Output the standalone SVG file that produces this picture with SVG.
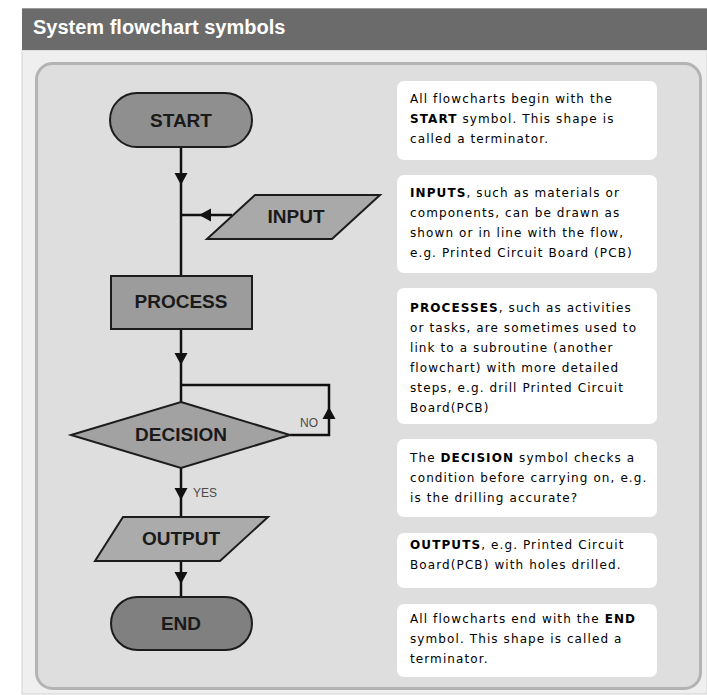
<svg xmlns="http://www.w3.org/2000/svg" xmlns:xlink="http://www.w3.org/1999/xlink" width="707" height="695" viewBox="0 0 707 695">
  <style>
    .title { font-family: "Liberation Sans", Arial, sans-serif; font-weight: bold; font-size: 20px; fill: #ffffff; }
    .shape { stroke: #1c1c1c; stroke-width: 2; }
    .label { font-family: "Liberation Sans", Arial, sans-serif; font-weight: bold; font-size: 19px; fill: #1a1a1a; text-anchor: middle; }
    .small { font-family: "Liberation Sans", Arial, sans-serif; font-size: 12px; fill: #4a4a4a; }
    .flow { fill: none; stroke: #111111; stroke-width: 2.5; }
    .head { fill: #111111; }
    .note { fill: #ffffff; }
    .desc { font-family: "DejaVu Sans", Verdana, sans-serif; font-size: 12px; fill: #000000; letter-spacing: 1.1px; }
    .desc .b { font-weight: bold; fill: #000000; }
  </style>
  <defs>
    <!-- arrowhead pointing down, tip at the origin -->
    <path id="ah" d="M -6.5 -12 L 6.5 -12 L 0 0 Z"/>
  </defs>

  <!-- page -->
  <rect x="0" y="0" width="707" height="695" fill="#ffffff"/>
  <rect x="22" y="50" width="685" height="644" fill="#efefef" stroke="#d2d2d2" stroke-width="1"/>
  <rect x="22" y="8" width="685" height="42" fill="#6b6b6b"/>
  <line x1="22" y1="8.5" x2="707" y2="8.5" stroke="#9a9a9a" stroke-width="1"/>
  <text class="title" x="33" y="34">System flowchart symbols</text>

  <!-- inner panel -->
  <rect x="36.5" y="63.5" width="664" height="625" rx="16" fill="#dedede" stroke="#b3b3b3" stroke-width="3"/>

  <!-- connectors -->
  <g id="connectors">
    <path class="flow" d="M 181 147 V 276"/>
    <path class="flow" d="M 232 215 H 181"/>
    <path class="flow" d="M 181 329 V 402"/>
    <path class="flow" d="M 290 435 H 329 V 385 H 181"/>
    <path class="flow" d="M 181 468 V 517"/>
    <path class="flow" d="M 181 561 V 597"/>
    <use xlink:href="#ah" class="head" transform="translate(181,185)"/>
    <use xlink:href="#ah" class="head" transform="translate(199,215) rotate(90)"/>
    <use xlink:href="#ah" class="head" transform="translate(181,365)"/>
    <use xlink:href="#ah" class="head" transform="translate(329,407) rotate(180)"/>
    <use xlink:href="#ah" class="head" transform="translate(181,500)"/>
    <use xlink:href="#ah" class="head" transform="translate(181,584)"/>
    <text class="small" x="300" y="427">NO</text>
    <text class="small" x="193" y="497">YES</text>
  </g>

  <!-- flowchart symbols -->
  <g id="start">
    <rect class="shape" x="110" y="93" width="142" height="54" rx="27" fill="#8f8f8f"/>
    <text class="label" x="181" y="127">START</text>
  </g>
  <g id="input">
    <polygon class="shape" points="255,195 380,195 332,239 207,239" fill="#a9a9a9"/>
    <text class="label" x="296" y="223">INPUT</text>
  </g>
  <g id="process">
    <rect class="shape" x="111" y="276" width="141" height="53" fill="#9c9c9c"/>
    <text class="label" x="181" y="308">PROCESS</text>
  </g>
  <g id="decision">
    <polygon class="shape" points="181,402 290,435 181,468 71,435" fill="#a2a2a2"/>
    <text class="label" x="181" y="441">DECISION</text>
  </g>
  <g id="output">
    <polygon class="shape" points="123,517 268,517 220,561 95,561" fill="#ababab"/>
    <text class="label" x="181" y="545">OUTPUT</text>
  </g>
  <g id="end">
    <rect class="shape" x="111" y="597" width="141" height="53" rx="26.5" fill="#808080"/>
    <text class="label" x="181" y="630">END</text>
  </g>

  <!-- explanation cards -->
  <g id="note-start">
    <rect class="note" x="397" y="81" width="260" height="79" rx="7"/>
    <text class="desc" x="410" y="103">All flowcharts begin with the</text>
    <text class="desc" x="410" y="123"><tspan class="b">START</tspan> symbol. This shape is</text>
    <text class="desc" x="410" y="143">called a terminator.</text>
  </g>
  <g id="note-input">
    <rect class="note" x="397" y="175" width="260" height="98" rx="7"/>
    <text class="desc" x="410" y="197"><tspan class="b">INPUTS</tspan>, such as materials or</text>
    <text class="desc" x="410" y="217">components, can be drawn as</text>
    <text class="desc" x="410" y="237">shown or in line with the flow,</text>
    <text class="desc" x="410" y="257">e.g. Printed Circuit Board (PCB)</text>
  </g>
  <g id="note-process">
    <rect class="note" x="397" y="288" width="260" height="136" rx="7"/>
    <text class="desc" x="410" y="312"><tspan class="b">PROCESSES</tspan>, such as activities</text>
    <text class="desc" x="410" y="332">or tasks, are sometimes used to</text>
    <text class="desc" x="410" y="352">link to a subroutine (another</text>
    <text class="desc" x="410" y="372">flowchart) with more detailed</text>
    <text class="desc" x="410" y="392">steps, e.g. drill Printed Circuit</text>
    <text class="desc" x="410" y="412">Board(PCB)</text>
  </g>
  <g id="note-decision">
    <rect class="note" x="397" y="439" width="260" height="78" rx="7"/>
    <text class="desc" x="410" y="462">The <tspan class="b">DECISION</tspan> symbol checks a</text>
    <text class="desc" x="410" y="482">condition before carrying on, e.g.</text>
    <text class="desc" x="410" y="502">is the drilling accurate?</text>
  </g>
  <g id="note-output">
    <rect class="note" x="397" y="533" width="260" height="55" rx="7"/>
    <text class="desc" x="410" y="549"><tspan class="b">OUTPUTS</tspan>, e.g. Printed Circuit</text>
    <text class="desc" x="410" y="569">Board(PCB) with holes drilled.</text>
  </g>
  <g id="note-end">
    <rect class="note" x="397" y="604" width="260" height="73" rx="7"/>
    <text class="desc" x="410" y="623">All flowcharts end with the <tspan class="b">END</tspan></text>
    <text class="desc" x="410" y="643">symbol. This shape is called a</text>
    <text class="desc" x="410" y="663">terminator.</text>
  </g>
</svg>
